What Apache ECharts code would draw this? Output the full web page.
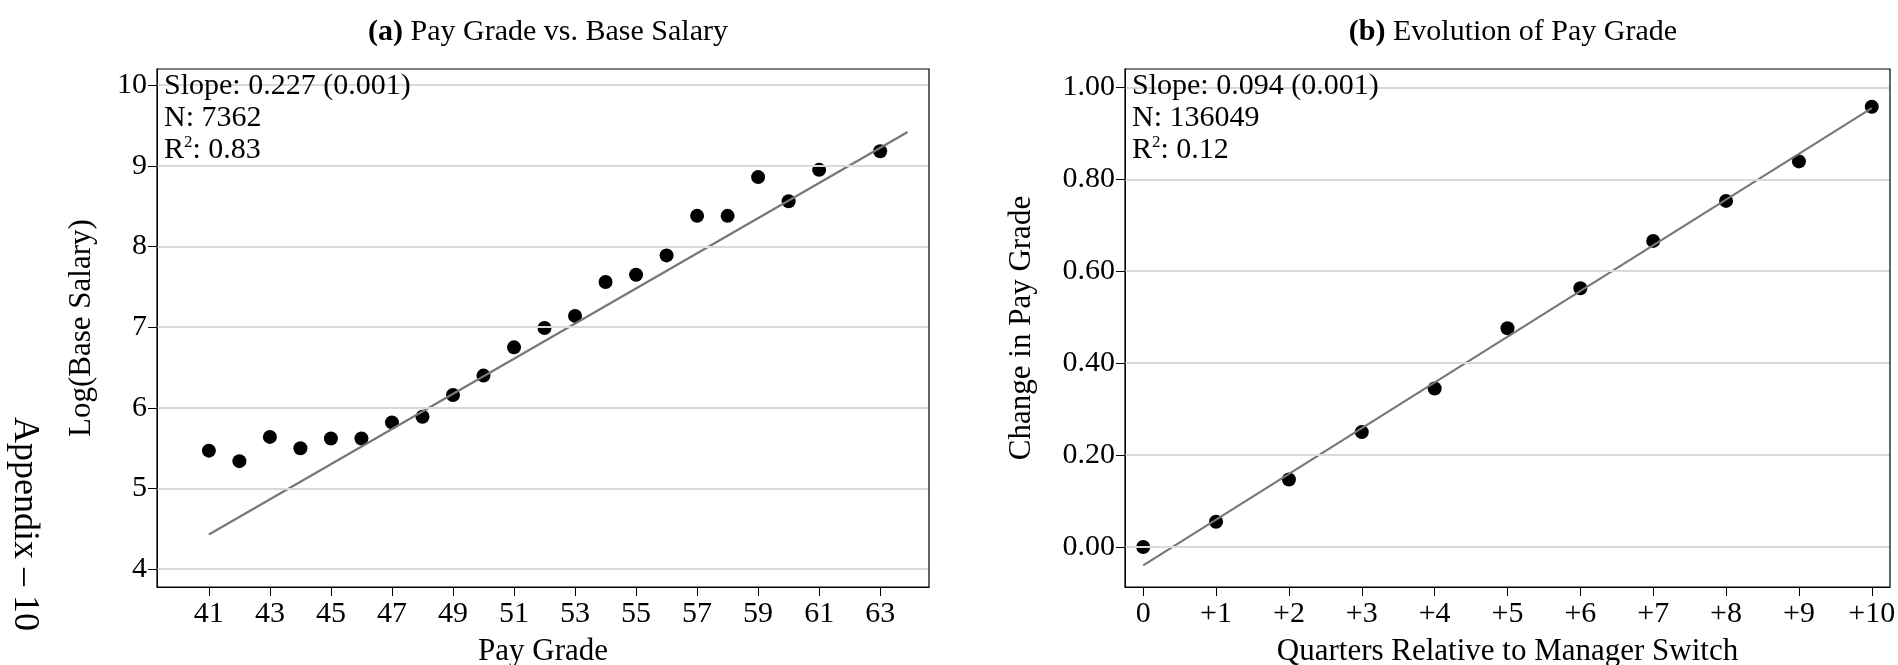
<!DOCTYPE html>
<html><head><meta charset="utf-8">
<script src="https://cdn.jsdelivr.net/npm/echarts@6/dist/echarts.min.js"></script>
<style>html,body{margin:0;background:#fff}#main{width:1898px;height:665px}</style>
</head><body><div id="main"></div>
<script>
var gradeX = [41,42,43,44,45,46,47,48,49,50,51,52,53,54,55,56,57,58,59,60,61,63];
var logSalary = [5.47,5.34,5.64,5.50,5.62,5.62,5.82,5.89,6.16,6.40,6.75,6.99,7.14,7.56,7.65,7.89,8.38,8.38,8.86,8.56,8.95,9.18];
var fitA = [[41,4.43],[63.9,9.42]];
var quarters = [0,1,2,3,4,5,6,7,8,9,10];
var payChange = [0.000,0.055,0.147,0.250,0.345,0.476,0.563,0.666,0.753,0.839,0.958];
var fitB = [[0,-0.04],[10,0.955]];

var F = 'Liberation Serif';
var chart = echarts.init(document.getElementById('main'));
function yAx(i,min,max,iv,fmt){return {gridIndex:i,min:min,max:max,interval:iv,
  axisLine:{show:true,onZero:false,lineStyle:{color:'#000'}},axisTick:{show:true,length:9,lineStyle:{color:'#000'}},
  splitLine:{show:false},
  axisLabel:{color:'#000',fontFamily:F,fontSize:30,formatter:fmt,margin:10},
  nameLocation:'middle',nameGap:i?88:60,nameTextStyle:{color:'#000',fontFamily:F,fontSize:31}};}
function xAx(i,min,max,iv,fmt,name){return {gridIndex:i,type:'value',min:min,max:max,interval:iv,name:name,
  nameLocation:'middle',nameGap:49,nameTextStyle:{color:'#000',fontFamily:F,fontSize:31},
  axisLine:{onZero:false,lineStyle:{color:'#000'}},axisTick:{length:9,lineStyle:{color:'#000'}},
  splitLine:{show:false},axisLabel:{color:'#000',fontFamily:F,fontSize:30,formatter:fmt,margin:12}};}
var gx = xAx(0,39.3,64.6,1,function(v){return String(v);},'Pay Grade');
gx.axisTick.customValues=[41,43,45,47,49,51,53,55,57,59,61,63];
gx.axisLabel.customValues=[41,43,45,47,49,51,53,55,57,59,61,63];
var qx = xAx(1,-0.25,10.25,1,function(v){return v===0?'0':'+'+v;},'Quarters Relative to Manager Switch');
qx.axisTick.customValues=quarters; qx.axisLabel.customValues=quarters;
var ya = yAx(0,3.78,10.2,1); ya.name='Log(Base Salary)'; ya.axisTick.customValues=[4,5,6,7,8,9,10]; ya.axisLabel.customValues=[4,5,6,7,8,9,10];
var yb = yAx(1,-0.087,1.04,0.2,function(v){return v.toFixed(2);}); yb.name='Change in Pay Grade';
yb.axisTick.customValues=[0,0.2,0.4,0.6,0.8,1]; yb.axisLabel.customValues=[0,0.2,0.4,0.6,0.8,1];
function hlines(vals,xi,yi){return {type:'line',xAxisIndex:xi,yAxisIndex:yi,silent:true,symbol:'none',data:[],
  markLine:{symbol:'none',silent:true,label:{show:false},lineStyle:{color:'#d9d9d9',type:'solid',width:2},data:vals.map(function(v){return {yAxis:v};})}};}
function txt(x,y,lines){return {type:'text',left:x,top:y,z:10,style:{text:lines.join('\n'),font:'30px '+F,fill:'#000',lineHeight:32,
  rich:{s:{fontSize:17,verticalAlign:'top',fontFamily:F,lineHeight:32}}}};}
var ts = {fontFamily:F,fontSize:30,fontWeight:'normal',color:'#000',rich:{b:{fontWeight:'bold',fontFamily:F,fontSize:30}}};
chart.setOption({
  animation:false,
  title:[{text:'{b|(a)} Pay Grade vs. Base Salary',left:543,top:12,textAlign:'center',textStyle:ts},
         {text:'{b|(b)} Evolution of Pay Grade',left:1508,top:12,textAlign:'center',textStyle:ts}],
  grid:[{left:157,right:969,top:69,bottom:78,outerBoundsMode:'none',containLabel:false},
        {left:1125,right:8,top:69,bottom:78,outerBoundsMode:'none',containLabel:false}],
  xAxis:[gx,qx],
  yAxis:[ya,yb],
  graphic:[
    {type:'rect',z:10,shape:{x:157,y:69,width:772,height:518},style:{fill:'none',stroke:'#000',lineWidth:1.2}},
    {type:'rect',z:10,shape:{x:1125,y:69,width:765,height:518},style:{fill:'none',stroke:'#000',lineWidth:1.2}},
    txt(164,70,['Slope: 0.227 (0.001)','N: 7362','R{s|2}: 0.83']),
    txt(1132,70,['Slope: 0.094 (0.001)','N: 136049','R{s|2}: 0.12']),
    {type:'text',left:6,top:417,rotation:-Math.PI/2,style:{text:'Appendix \u2013 10',font:'36px '+F,fill:'#000'}}
  ],
  series:[
    hlines([4,5,6,7,8,9,10],0,0),
    hlines([0,0.2,0.4,0.6,0.8,1],1,1),
    {type:'line',xAxisIndex:0,yAxisIndex:0,data:fitA,symbol:'none',lineStyle:{color:'#777',width:2.2}},
    {type:'scatter',xAxisIndex:0,yAxisIndex:0,symbolSize:14,itemStyle:{color:'#000',opacity:1},
     data:gradeX.map(function(g,i){return [g,logSalary[i]];})},
    {type:'line',xAxisIndex:1,yAxisIndex:1,data:fitB,symbol:'none',lineStyle:{color:'#777',width:2.2}},
    {type:'scatter',xAxisIndex:1,yAxisIndex:1,symbolSize:14,itemStyle:{color:'#000',opacity:1},
     data:quarters.map(function(q,i){return [q,payChange[i]];})}
  ]
});
</script></body></html>
